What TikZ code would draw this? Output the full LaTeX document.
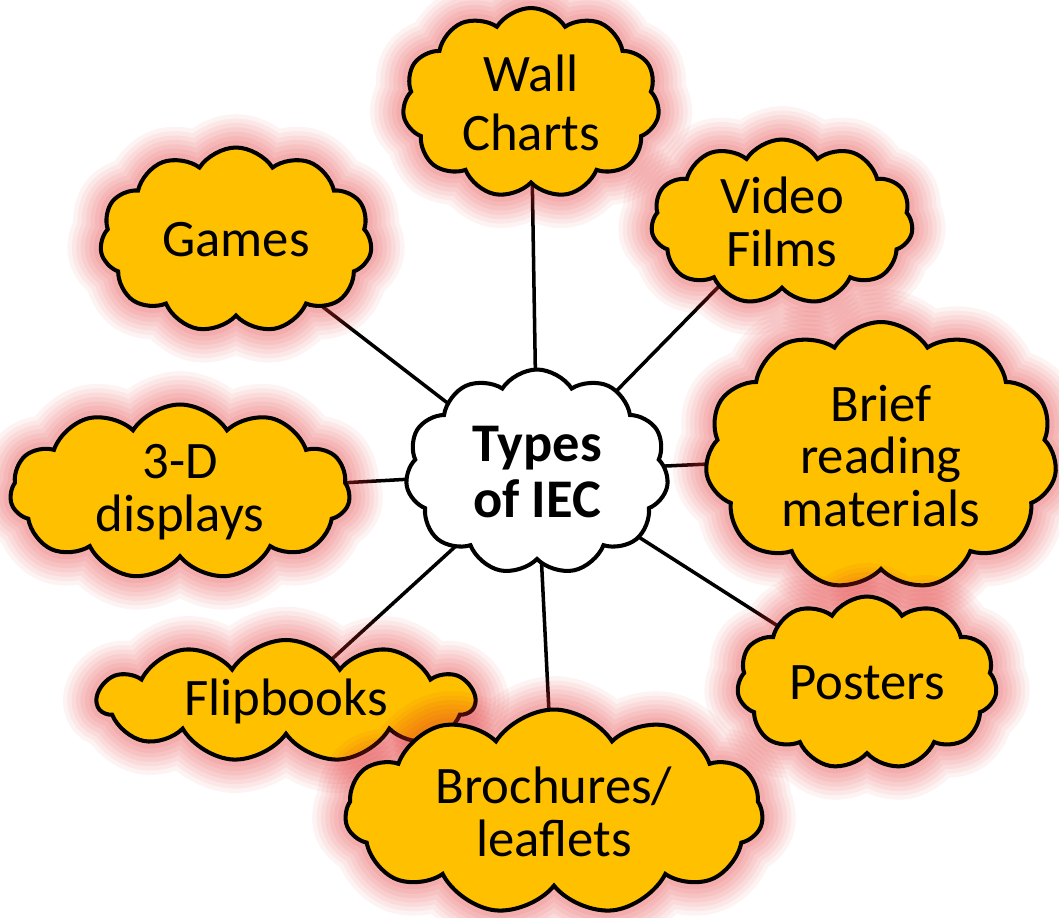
\documentclass[tikz,border=0pt]{standalone}
\usepackage{fontspec}
\setmainfont{Carlito}
\definecolor{iecgold}{RGB}{255,192,0}
\definecolor{iecglow}{RGB}{225,45,45}
\usetikzlibrary{shapes.symbols,backgrounds}

\begin{document}
\begin{tikzpicture}[
  x=0.02cm, y=-0.02cm,
  every node/.style={font=\fontsize{30}{30}\selectfont},
  cloudbase/.style={cloud,cloud puffs=11,cloud puff arc=115,cloud ignores aspect,
                    draw=black,line width=2.3pt,align=center,inner sep=0pt},
  topic/.style={cloudbase,fill=iecgold,
                preaction={draw=iecglow,draw opacity=0.06,line width=38pt},
                preaction={draw=iecglow,draw opacity=0.06,line width=33pt},
                preaction={draw=iecglow,draw opacity=0.07,line width=28pt},
                preaction={draw=iecglow,draw opacity=0.07,line width=23pt},
                preaction={draw=iecglow,draw opacity=0.07,line width=18pt},
                preaction={draw=iecglow,draw opacity=0.07,line width=13pt},
                preaction={draw=iecglow,draw opacity=0.07,line width=8pt}},
  hub/.style={cloudbase,fill=white,font=\fontsize{31}{32}\selectfont\bfseries},
  link/.style={line width=2pt,black},
]
  \useasboundingbox (0,0) rectangle (1059,918);

  % Centre
  \node[hub,minimum width=5.26cm,minimum height=4.1cm] (iec) at (537,472) {Types\\of IEC};

  % Outer clouds
  \node[topic,minimum width=5.14cm,minimum height=3.8cm,font=\fontsize{30}{34}\selectfont]
    (wall) at (531,103) {Wall\\Charts};
  \node[topic,minimum width=5.24cm,minimum height=3.3cm] (video) at (782,222) {Video\\Films};
  \node[topic,minimum width=5.44cm,minimum height=3.7cm] (games) at (236,240) {Games};
  \node[topic,minimum width=7.04cm,minimum height=5.36cm] (brief) at (881,456) {Brief\\reading\\materials};
  \node[topic,minimum width=6.8cm,minimum height=3.5cm] (displays) at (180,492) {3-D\\displays};
  \node[topic,minimum width=5.2cm,minimum height=3.46cm] (posters) at (867,683) {Posters};
  \node[topic,minimum width=7.54cm,minimum height=2.44cm] (flip) at (286,701) {Flipbooks};
  \node[topic,minimum width=8.36cm,minimum height=4.1cm] (broch) at (554,812) {Brochures/\\leaflets};

  % Links
  \begin{scope}[on background layer]
    \foreach \t in {wall,video,games,brief,displays,posters,flip,broch}
      \draw[link] (iec.center) -- (\t.center);
  \end{scope}
\end{tikzpicture}
\end{document}
